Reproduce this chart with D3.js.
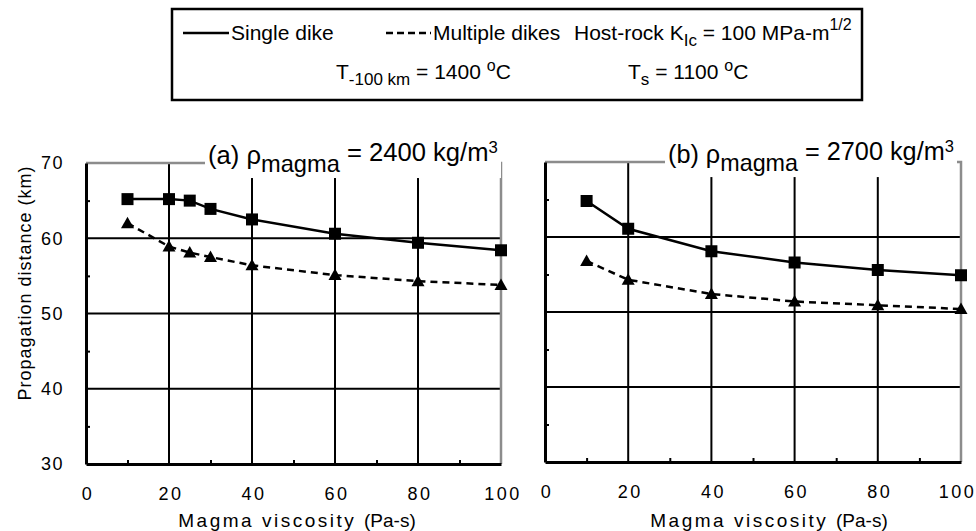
<!DOCTYPE html>
<html>
<head>
<meta charset="utf-8">
<script src="https://cdn.jsdelivr.net/npm/d3@7"></script>
<style>
  body { margin: 0; background: #fff; }
  text { font-family: "Liberation Sans", Arial, sans-serif; fill: #000; }
</style>
</head>
<body>
<svg id="chart" width="976" height="531"></svg>
<script>
// values
const viscA = [10, 20, 25, 30, 40, 60, 80, 100];
const singleA = [65.2, 65.2, 65.0, 63.9, 62.5, 60.6, 59.4, 58.4];
const multipleA = [62.0, 58.9, 58.1, 57.5, 56.4, 55.1, 54.3, 53.8];

const viscB = [10, 20, 40, 60, 80, 100];
const singleB = [64.8, 61.1, 58.1, 56.6, 55.6, 54.9];
const multipleB = [56.8, 54.3, 52.4, 51.4, 50.9, 50.4];

const xTicks = [0, 20, 40, 60, 80, 100];
const xMinor = [10, 30, 50, 70, 90];
const yTicks = [30, 40, 50, 60, 70];
const yMinor = [35, 45, 55, 65];
const xGrid = [20, 40, 60, 80];
const yGrid = [40, 50, 60];

const svg = d3.select("#chart");

function translate(x, y) {
  return "translate(" + x + "," + y + ")";
}

// squeeze / stretch a text horizontally so it spans the given width
function fit(sel, x0, width) {
  var w = sel.node().getBBox().width;
  sel.attr("transform", translate(x0, 0) + " scale(" + (width / w) + ",1) " + translate(-x0, 0));
}

// legend box at the top
var legend = svg.append("g");
legend.append("rect")
  .attr("x", 172).attr("y", 9)
  .attr("width", 690).attr("height", 91)
  .attr("fill", "#fff")
  .attr("stroke", "#000")
  .attr("stroke-width", 2.5);

legend.append("line")
  .attr("x1", 183).attr("x2", 229).attr("y1", 33).attr("y2", 33)
  .attr("stroke", "#000").attr("stroke-width", 2.5);
legend.append("text").attr("x", 231).attr("y", 40)
  .style("font-size", "21px").text("Single dike");

legend.append("line")
  .attr("x1", 386).attr("x2", 431).attr("y1", 33).attr("y2", 33)
  .attr("stroke", "#000").attr("stroke-width", 2.5)
  .attr("stroke-dasharray", "7,4");
legend.append("text").attr("x", 433).attr("y", 40)
  .style("font-size", "21px").text("Multiple dikes");

var k = legend.append("text").attr("x", 574).attr("y", 40).style("font-size", "21px");
k.append("tspan").text("Host-rock K");
k.append("tspan").attr("dy", 6).style("font-size", "17px").text("Ic");
k.append("tspan").attr("dy", -6).text(" = 100 MPa-m");
k.append("tspan").attr("dy", -10).style("font-size", "16px").text("1/2");

var t1 = legend.append("text").attr("x", 336).attr("y", 79).style("font-size", "21px");
t1.append("tspan").text("T");
t1.append("tspan").attr("dy", 6).style("font-size", "17px").text("-100 km");
t1.append("tspan").attr("dy", -6).text(" = 1400 ");
t1.append("tspan").attr("dy", -8).style("font-size", "16px").text("o");
t1.append("tspan").attr("dy", 8).text("C");

var t2 = legend.append("text").attr("x", 628).attr("y", 79).style("font-size", "21px");
t2.append("tspan").text("T");
t2.append("tspan").attr("dy", 6).style("font-size", "17px").text("s");
t2.append("tspan").attr("dy", -6).text(" = 1100 ");
t2.append("tspan").attr("dy", -8).style("font-size", "16px").text("o");
t2.append("tspan").attr("dy", 8).text("C");

const trianglePath = "M0,-6.5L6.5,5L-6.5,5Z";

function panel(cfg) {
  var x = d3.scaleLinear().domain([0, 100]).range([cfg.left, cfg.right]);
  var y = d3.scaleLinear().domain([30, 70]).range([cfg.bottom, cfg.top]);
  var g = svg.append("g");

  // grid lines
  g.selectAll(".vgrid").data(xGrid).join("line")
    .attr("x1", d => x(d)).attr("x2", d => x(d))
    .attr("y1", cfg.top).attr("y2", cfg.bottom)
    .attr("stroke", "#000").attr("stroke-width", 2);
  g.selectAll(".hgrid").data(yGrid).join("line")
    .attr("x1", cfg.left).attr("x2", cfg.right)
    .attr("y1", d => y(d)).attr("y2", d => y(d))
    .attr("stroke", "#000").attr("stroke-width", 2);

  // grey plot-area border (top and right)
  g.append("path")
    .attr("d", "M" + cfg.left + "," + cfg.top + "H" + cfg.right + "V" + cfg.bottom)
    .attr("fill", "none")
    .attr("stroke", "#8c8c8c")
    .attr("stroke-width", 2.5);

  // minor ticks, pointing inward
  g.append("g").attr("transform", translate(0, cfg.bottom))
    .call(d3.axisBottom(x).tickValues(xMinor).tickSize(-4).tickFormat(""))
    .call(a => a.select(".domain").remove())
    .call(a => a.selectAll("line").attr("stroke-width", 2));
  g.append("g").attr("transform", translate(cfg.left, 0))
    .call(d3.axisLeft(y).tickValues(yMinor).tickSize(-4).tickFormat(""))
    .call(a => a.select(".domain").remove())
    .call(a => a.selectAll("line").attr("stroke-width", 2));

  // main axes
  var xa = g.append("g").attr("transform", translate(0, cfg.bottom))
    .call(d3.axisBottom(x).tickValues(xTicks).tickSizeOuter(0).tickSize(0).tickPadding(23));
  xa.select(".domain").attr("stroke-width", 3);
  xa.selectAll("text")
    .attr("fill", "#000")
    .attr("dx", d => (cfg.lastShift && d === 100) ? cfg.lastShift + "px" : "1.5px")
    .style("font-size", "18px")
    .style("letter-spacing", "2.5px")
    .style("font-family", "'Liberation Sans', Arial, sans-serif");

  var ya = g.append("g").attr("transform", translate(cfg.left, 0))
    .call(d3.axisLeft(y).tickValues(yTicks).tickSizeOuter(0).tickSize(0).tickPadding(22)
      .tickFormat(cfg.yLabels ? d3.format("d") : ""));
  ya.select(".domain").attr("stroke-width", 3);
  ya.selectAll("text")
    .attr("fill", "#000")
    .style("font-size", "18px")
    .style("letter-spacing", "1.5px")
    .style("font-family", "'Liberation Sans', Arial, sans-serif");

  // series lines
  var line = d3.line().x(d => x(d[0])).y(d => y(d[1]));
  var singlePts = cfg.visc.map((v, i) => [v, cfg.single[i]]);
  var multiPts = cfg.visc.map((v, i) => [v, cfg.multiple[i]]);

  g.append("path").datum(singlePts)
    .attr("d", line).attr("fill", "none")
    .attr("stroke", "#000").attr("stroke-width", 2.5);
  g.append("path").datum(multiPts)
    .attr("d", line).attr("fill", "none")
    .attr("stroke", "#000").attr("stroke-width", 2.5)
    .attr("stroke-dasharray", "7,5");

  g.selectAll(".sq").data(singlePts).join("rect")
    .attr("x", d => x(d[0]) - 6).attr("y", d => y(d[1]) - 6)
    .attr("width", 12).attr("height", 12)
    .attr("fill", "#000");
  g.selectAll(".tri").data(multiPts).join("path")
    .attr("transform", d => translate(x(d[0]), y(d[1])))
    .attr("d", trianglePath)
    .attr("fill", "#000");

  // panel title with white background
  var bg = g.append("rect").attr("fill", "#fff");
  var title = g.append("text").attr("x", cfg.titleX).attr("y", cfg.top + 1)
    .style("font-size", "26px");
  title.append("tspan").text(cfg.tag + " \u03C1");
  title.append("tspan").attr("dy", 8).style("font-size", "24px").text("magma");
  title.append("tspan").attr("dy", -11).text(" = " + cfg.density + " kg/m");
  title.append("tspan").attr("dy", -8).style("font-size", "17px").text("3");
  fit(title, cfg.titleX, cfg.titleW);
  var bb = title.node().getBBox();
  var sx = cfg.titleW / bb.width;
  bg.attr("x", cfg.titleX - 3).attr("y", bb.y)
    .attr("width", bb.width * sx + 6).attr("height", bb.height + 1);

  // x axis title
  var xt = g.append("text")
    .attr("x", cfg.xTitleX).attr("y", 527)
    .attr("text-anchor", "middle")
    .style("font-size", "19px");
  xt.append("tspan").style("letter-spacing", "2.5px").text("Magma viscosity ");
  xt.append("tspan").text("(Pa-s)");
}

panel({
  left: 86, right: 501, top: 163, bottom: 464,
  visc: viscA, single: singleA, multiple: multipleA,
  tag: "(a)", density: 2400, titleX: 208, titleW: 290, xTitleX: 297, yLabels: true
});
panel({
  left: 545, right: 961, top: 162, bottom: 462,
  visc: viscB, single: singleB, multiple: multipleB,
  tag: "(b)", density: 2700, titleX: 668, titleW: 286, xTitleX: 769, yLabels: false,
  lastShift: -4
});

// y axis title
svg.append("text")
  .attr("transform", translate(31, 283) + " rotate(-90)")
  .attr("text-anchor", "middle")
  .style("font-size", "18px")
  .style("letter-spacing", "1px")
  .text("Propagation distance (km)");
</script>
</body>
</html>
